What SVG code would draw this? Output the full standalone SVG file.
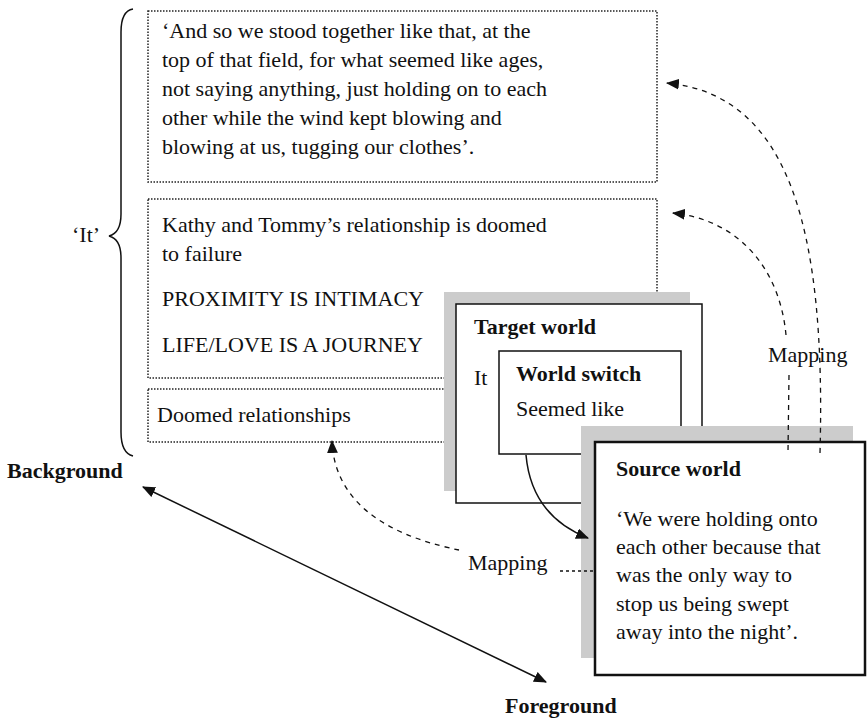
<svg xmlns="http://www.w3.org/2000/svg" width="867" height="718" viewBox="0 0 867 718">
  <style>
    text { font-family: "Liberation Serif", "Times New Roman", serif; font-size: 22px; fill: #111; }
    .b { font-weight: bold; }
    .dotbox { fill: none; stroke: #222; stroke-width: 1.5; stroke-dasharray: 1.5 1.5; }
    .shadow { fill: #cccccc; stroke: none; }
    .frame { fill: #fff; stroke: #111; stroke-width: 1.5; }
    .frame2 { fill: #fff; stroke: #111; stroke-width: 2.5; }
    .dash { fill: none; stroke: #111; stroke-width: 1.3; stroke-dasharray: 5 5; }
    .solid { fill: none; stroke: #111; stroke-width: 1.5; }
  </style>
  <defs>
    <marker id="arrow" viewBox="0 0 12 10" refX="11" refY="5" markerWidth="13" markerHeight="11" markerUnits="userSpaceOnUse" orient="auto-start-reverse">
      <path d="M0,0 L12,5 L0,10 Z" fill="#111"/>
    </marker>
  </defs>

  <!-- brace grouping the background boxes -->
  <g id="brace">
    <path class="solid" stroke-width="2" d="M133,9 Q121,11 121,32 L121,214 Q121,233 109,236 Q121,239 121,258 L121,432 Q121,453 133,456"/>
    <text x="72" y="242">‘It’</text>
  </g>

  <g id="quote">
    <rect class="dotbox" x="148" y="11" width="509" height="171"/>
    <text x="162" y="38">‘And so we stood together like that, at the</text>
    <text x="162" y="67">top of that field, for what seemed like ages,</text>
    <text x="162" y="96">not saying anything, just holding on to each</text>
    <text x="162" y="125">other while the wind kept blowing and</text>
    <text x="162" y="154">blowing at us, tugging our clothes’.</text>
  </g>

  <g id="inference">
    <rect class="dotbox" x="148" y="199" width="509" height="179"/>
    <text x="162" y="232">Kathy and Tommy’s relationship is doomed</text>
    <text x="162" y="261">to failure</text>
    <text x="162" y="306">PROXIMITY IS INTIMACY</text>
    <text x="162" y="352">LIFE/LOVE IS A JOURNEY</text>
  </g>

  <g id="theme">
    <rect class="dotbox" x="148" y="389" width="509" height="53"/>
    <text x="157" y="422">Doomed relationships</text>
  </g>

  <g id="target-world">
    <rect class="shadow" x="444" y="292" width="246" height="199"/>
    <rect class="frame" x="456" y="304" width="246" height="199"/>
    <text class="b" x="474" y="334">Target world</text>
    <text x="474" y="385">It</text>
  </g>

  <g id="world-switch">
    <rect class="frame" x="499" y="351" width="182" height="103"/>
    <text class="b" x="516" y="381">World switch</text>
    <text x="516" y="416">Seemed like</text>
  </g>

  <g id="source-world">
    <rect class="shadow" x="581" y="426" width="272" height="232"/>
    <rect class="frame2" x="595" y="442" width="270" height="233"/>
    <text class="b" x="616" y="476">Source world</text>
    <text x="616" y="526">‘We were holding onto</text>
    <text x="616" y="554">each other because that</text>
    <text x="616" y="582">was the only way to</text>
    <text x="616" y="611">stop us being swept</text>
    <text x="616" y="639">away into the night’.</text>
  </g>

  <g id="axis-labels">
    <text class="b" x="7" y="478">Background</text>
    <text class="b" x="505" y="713">Foreground</text>
  </g>

  <g id="connectors">
    <!-- background / foreground axis -->
    <line class="solid" x1="143" y1="487" x2="546" y2="682" marker-start="url(#arrow)" marker-end="url(#arrow)"/>
    <!-- world switch into source world -->
    <path class="solid" d="M526,455 C530,500 555,525 588,538" marker-end="url(#arrow)"/>
    <!-- mappings back to the text world -->
    <path class="dash" d="M820,453 C826,230 790,95 667,83" marker-end="url(#arrow)"/>
    <path class="dash" d="M786,335 C780,270 740,220 673,213" marker-end="url(#arrow)"/>
    <path class="dash" d="M789,375 L788,452"/>
    <text x="768" y="362">Mapping</text>
    <path class="dash" d="M459,550 C410,540 335,515 332,441" marker-end="url(#arrow)"/>
    <path class="dash" d="M560,571 L595,571" style="stroke-dasharray:3 3"/>
    <text x="468" y="570">Mapping</text>
  </g>
</svg>
